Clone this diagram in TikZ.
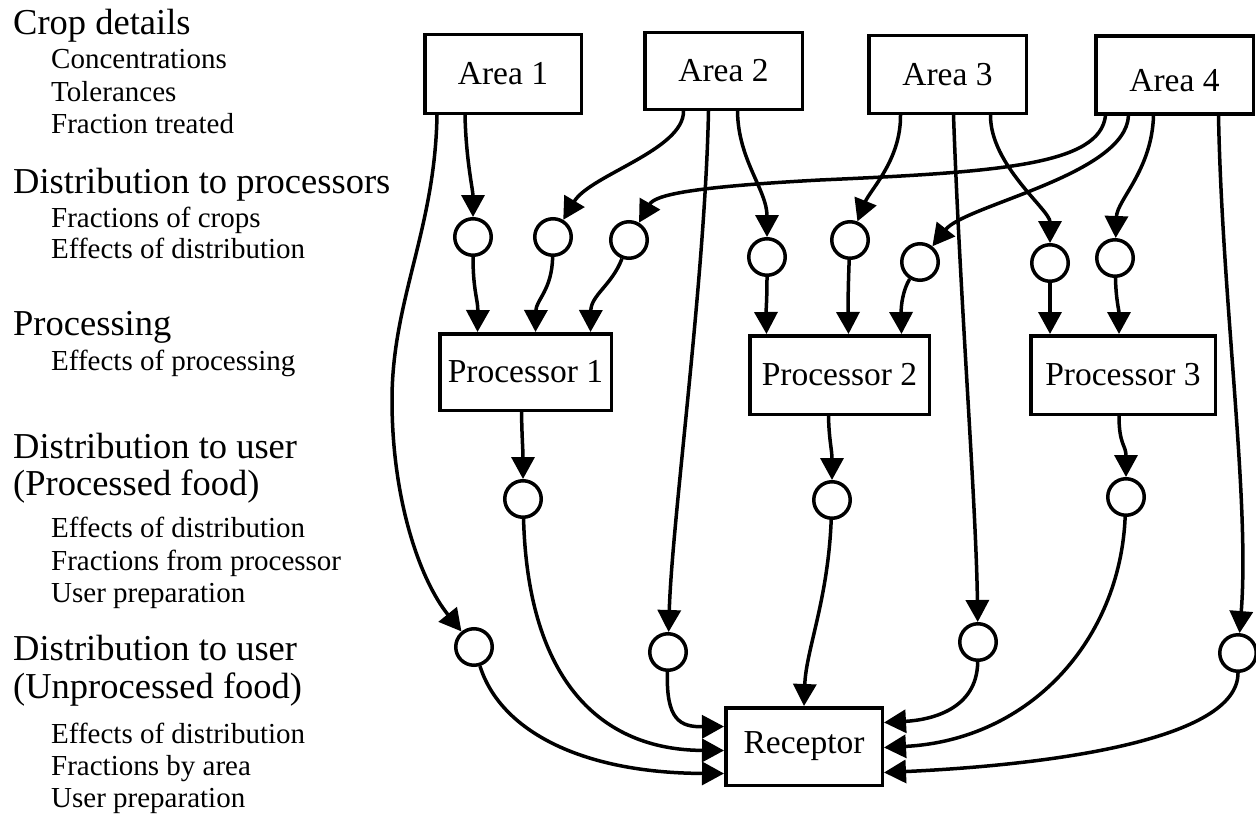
\documentclass[tikz,border=0pt]{standalone}
\usepackage{fontspec}
\setmainfont{Liberation Serif}
\usetikzlibrary{arrows.meta}
\begin{document}
\begin{tikzpicture}[x=1pt,y=-1pt,
  box/.style={draw,line width=3.5pt,rectangle,inner sep=0pt,font=\fontsize{33.5}{40}\selectfont},
  dot/.style={draw,line width=3.5pt,circle,minimum size=36.5pt,inner sep=0pt},
  arr/.style={line width=3.5pt,-{Triangle[length=22pt,width=23pt]}},
  big/.style={anchor=base west,inner sep=0pt,font=\fontsize{36.5}{43}\selectfont},
  small/.style={anchor=base west,inner sep=0pt,font=\fontsize{29}{35}\selectfont}]
\useasboundingbox (0,0) rectangle (1256,816);
% left labels
\node[big]   (t1)  at (13,35)  {Crop details};
\node[small] (t2)  at (51,69)  {Concentrations};
\node[small] (t3)  at (51,102) {Tolerances};
\node[small] (t4)  at (51,133) {Fraction treated};
\node[big]   (t5)  at (13,193) {Distribution to processors};
\node[small] (t6)  at (51,227) {Fractions of crops};
\node[small] (t7)  at (51,258) {Effects of distribution};
\node[big]   (t8)  at (13,335) {Processing};
\node[small] (t9)  at (51,370) {Effects of processing};
\node[big]   (t10) at (13,458) {Distribution to user};
\node[big]   (t11) at (13,495) {(Processed food)};
\node[small] (t12) at (51,537) {Effects of distribution};
\node[small] (t13) at (51,570) {Fractions from processor};
\node[small] (t14) at (51,602) {User preparation};
\node[big]   (t15) at (13,660) {Distribution to user};
\node[big]   (t16) at (13,698) {(Unprocessed food)};
\node[small] (t17) at (51,743) {Effects of distribution};
\node[small] (t18) at (51,775) {Fractions by area};
\node[small] (t19) at (51,807) {User preparation};
% boxes
\node[box,minimum width=156.5pt,minimum height=78.5pt] (a1) at (503,74) {Area 1};
\node[box,minimum width=157.5pt,minimum height=76.5pt] (a2) at (723.5,71) {Area 2};
\node[box,minimum width=157.5pt,minimum height=77.5pt] (a3) at (947.5,74.5) {Area 3};
\node[box,minimum width=157.5pt,minimum height=77.5pt,text height=33pt] (a4) at (1174.5,75) {Area 4};
\node[box,minimum width=171.5pt,minimum height=76.5pt] (p1) at (525.5,372) {Processor 1};
\node[box,minimum width=179.5pt,minimum height=78.5pt] (p2) at (839.5,375) {Processor 2};
\node[box,minimum width=184.5pt,minimum height=78.5pt] (p3) at (1123,375) {Processor 3};
\node[box,minimum width=156.5pt,minimum height=77.5pt] (r) at (804,746.5) {Receptor};
% circles
\node[dot] (c1) at (473,237) {};
\node[dot] (c2) at (553,237) {};
\node[dot] (c3) at (629,240) {};
\node[dot] (c4) at (767,257) {};
\node[dot] (c5) at (850,240) {};
\node[dot] (c6) at (920,262) {};
\node[dot] (c7) at (1050,263) {};
\node[dot] (c8) at (1115,258) {};
\node[dot] (q1) at (523,499) {};
\node[dot] (q2) at (832,500) {};
\node[dot] (q3) at (1126,497) {};
\node[dot] (u1) at (474,647) {};
\node[dot] (u2) at (668,652) {};
\node[dot] (u3) at (978,642) {};
\node[dot] (u4) at (1238,653) {};
% areas to circles
\draw[arr] ([xshift=-38pt]a1.south) .. controls (466,160) and (473,190) .. (c1);
\draw[arr] ([xshift=-66pt]a1.south) .. controls (435,230) and (392,300) .. (392,400)
           .. controls (392,500) and (420,580) .. (u1);
\draw[arr] ([xshift=-40pt]a2.south) .. controls (684,150) and (590,175) .. (c2);
\draw[arr] ([xshift=-15pt]a2.south) .. controls (705,280) and (672,520) .. (u2);
\draw[arr] ([xshift=14pt]a2.south) .. controls (738,160) and (767,190) .. (c4);
\draw[arr] ([xshift=-47pt]a3.south) .. controls (901,160) and (870,190) .. (c5);
\draw[arr] ([xshift=6pt]a3.south) .. controls (960,300) and (976,500) .. (u3);
\draw[arr] ([xshift=43pt]a3.south) .. controls (990,165) and (1050,210) .. (c7);
\draw[arr] ([xshift=-69pt]a4.south) .. controls (1100,165) and (1000,172) .. (820,180)
           .. controls (690,187) and (655,195) .. (c3);
\draw[arr] ([xshift=-46pt]a4.south) .. controls (1126,175) and (965,205) .. (c6);
\draw[arr] ([xshift=-21pt]a4.south) .. controls (1152,170) and (1117,200) .. (c8);
\draw[arr] ([xshift=44pt]a4.south) .. controls (1222,300) and (1250,500) .. (u4);
% circles to processors
\draw[arr] (c1) .. controls (473,290) and (478,300) .. ([xshift=-48pt]p1.north);
\draw[arr] (c2) .. controls (552,290) and (536,300) .. ([xshift=10pt]p1.north);
\draw[arr] (c3) .. controls (612,285) and (591,295) .. ([xshift=65pt]p1.north);
\draw[arr] (c4) .. controls (767,300) and (766,310) .. ([xshift=-73pt]p2.north);
\draw[arr] (c5) .. controls (848,290) and (848,310) .. ([xshift=9pt]p2.north);
\draw[arr] (c6) .. controls (903,290) and (901,305) .. ([xshift=62pt]p2.north);
\draw[arr] (c7) .. controls (1050,300) and (1050,310) .. ([xshift=-73pt]p3.north);
\draw[arr] (c8) .. controls (1116,300) and (1119,310) .. ([xshift=-4pt]p3.north);
% processors to circles
\draw[arr] ([xshift=-4pt]p1.south) .. controls (522,440) and (523,450) .. (q1);
\draw[arr] ([xshift=-11pt]p2.south) .. controls (829,440) and (832,450) .. (q2);
\draw[arr] ([xshift=-4pt]p3.south) .. controls (1119,445) and (1126,445) .. (q3);
% to receptor
\draw[arr] (u2) .. controls (666,720) and (680,727) .. ([yshift=20pt]r.west);
\draw[arr] (q1) .. controls (528,680) and (600,750) .. ([yshift=-4pt]r.west);
\draw[arr] (u1) .. controls (500,730) and (580,773) .. ([yshift=-27pt]r.west);
\draw[arr] (q2) .. controls (828,600) and (806,650) .. (r.north);
\draw[arr] (u3) .. controls (977,710) and (930,720) .. ([yshift=24pt]r.east);
\draw[arr] (q3) .. controls (1120,640) and (1030,740) .. ([yshift=-1pt]r.east);
\draw[arr] (u4) .. controls (1238,740) and (1050,765) .. ([yshift=-26pt]r.east);
\end{tikzpicture}
\end{document}
